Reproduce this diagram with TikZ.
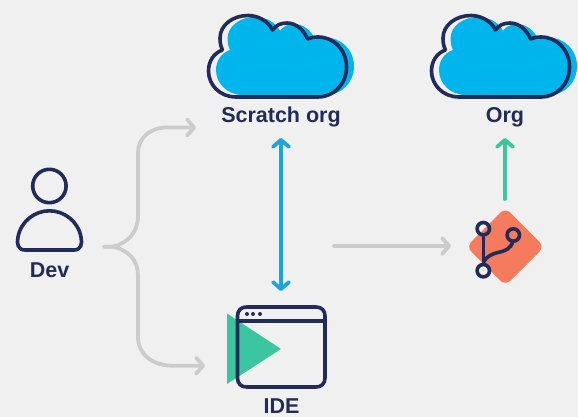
\documentclass[tikz,border=0pt]{standalone}
\usepackage{fontspec}
\setmainfont{Liberation Sans}
\usetikzlibrary{arrows.meta}
\definecolor{bgc}{HTML}{F0F0F0}
\definecolor{navy}{HTML}{232B58}
\definecolor{cloudb}{HTML}{00B5EC}
\definecolor{arrowb}{HTML}{1BA5E0}
\definecolor{greenc}{HTML}{3CC6A0}
\definecolor{orangec}{HTML}{F47B5E}
\definecolor{greyc}{HTML}{CCCCCC}
\newcommand{\cloudoutline}{(222.5,50) .. controls (220.5,46) and (220,42) .. (220,38)
  .. controls (220,25) and (233,15.5) .. (248,15.5)
  .. controls (258,15.5) and (268,21) .. (272.5,30)
  .. controls (276,25) and (281,23) .. (287,23)
  .. controls (296,23) and (304,30) .. (307.5,39)
  .. controls (311,37.5) and (314,37) .. (318,37)
  .. controls (334,37) and (346.5,50) .. (346.5,67)
  .. controls (346.5,84) and (334,97) .. (318,97)
  -- (236,97)
  .. controls (220,97) and (208.5,85) .. (208.5,71)
  .. controls (208.5,61) and (214,53) .. (222.5,50) -- cycle}
\tikzset{
  lbl/.style={font=\bfseries\fontsize{21.5}{24}\selectfont, text=navy, inner sep=0pt, anchor=base},
  icon/.style={draw=navy, line width=3.6pt, line join=round, line cap=round},
  flow/.style={line width=3.8pt, line cap=round, line join=round},
  opentip/.style={-{Straight Barb[length=7pt,width=16pt,line width=3.8pt,round]}},
  bothtip/.style={{Straight Barb[length=7pt,width=16pt,line width=3.8pt,round]}-{Straight Barb[length=7pt,width=16pt,line width=3.8pt,round]}},
  pics/cloudshape/.style={code={
    \fill[cloudb, cm={1,0,0,0.96,(7.5,2)}] \cloudoutline;
    \path[icon] \cloudoutline;
  }}
}
\begin{document}
\begin{tikzpicture}[x=1pt,y=-1pt]
\useasboundingbox (0,0) rectangle (578,417);
\fill[bgc] (0,0) rectangle (578,417);
% clouds
\pic at (0,0) {cloudshape};
\pic at (223,0) {cloudshape};
\node[lbl] (scratch) at (281,123) {Scratch org};
\node[lbl] (org) at (505,123) {Org};
% dev
\draw[icon] (49.4,186) circle (16.7pt);
\draw[icon] (25,250) .. controls (18,250) and (16.5,244) .. (18,237)
  .. controls (21,221) and (35,210.8) .. (49.5,210.8)
  .. controls (64,210.8) and (78,221) .. (81,237)
  .. controls (82.5,244) and (81,250) .. (74,250) -- cycle;
\node[lbl] (dev) at (49.5,277) {Dev};
% ide
\fill[greenc] (227,313.5) -- (281,349) -- (227,384) -- cycle;
\draw[icon] (246.5,307) -- (316,307) .. controls (321.5,307) and (325,310.5) .. (325,316)
  -- (325,378) .. controls (325,383.5) and (321.5,387) .. (316,387)
  -- (246.5,387) .. controls (241,387) and (237.5,383.5) .. (237.5,378)
  -- (237.5,316) .. controls (237.5,310.5) and (241,307) .. (246.5,307) -- cycle;
\draw[icon, line cap=butt] (237.5,321) -- (325,321);
\fill[navy] (247,314) circle (2pt) (253,314) circle (2pt) (260,314) circle (2pt);
\node[lbl] (ide) at (281.5,413) {IDE};
% git
\fill[orangec, rounded corners=7pt] (505.3,207.7) -- (544.3,246.7) -- (505.3,285.7) -- (466.3,246.7) -- cycle;
\draw[icon] (483.3,236) -- (483.3,263);
\draw[icon] (483.5,262) .. controls (487,256) and (492,254) .. (498,252.5)
  .. controls (505,251) and (511,249) .. (513,241);
\draw[icon] (483.3,228.7) circle (6.2pt) (483.3,270.7) circle (6.2pt) (513.3,235) circle (6.2pt);
% named ends of connectors
\coordinate (devout) at (104,246.7);
\coordinate (toscratch) at (196,127.5);
\coordinate (toide) at (205,365.7);
\coordinate (idetop) at (281,291);
\coordinate (scratchbot) at (281,138);
\coordinate (mid) at (334,246);
\coordinate (gitin) at (451,246);
\coordinate (gittop) at (505,199);
\coordinate (orgbot) at (505,138);
% connectors
\draw[flow, greyc, opentip] (devout) -- (113,246.7) .. controls (128,243) and (138,232) .. (138,216)
  -- (138,153) .. controls (138,138) and (150,127.5) .. (167,127.5) -- (toscratch);
\draw[flow, greyc, opentip] (devout) -- (113,246.7) .. controls (128,250) and (138,260) .. (138,275)
  -- (138,337) .. controls (138,354) and (152,365.7) .. (173,365.7) -- (toide);
\draw[flow, greyc, opentip] (mid) -- (gitin);
\draw[flow, arrowb, bothtip] (scratchbot) -- (idetop);
\draw[flow, greenc, opentip] (gittop) -- (orgbot);
\end{tikzpicture}
\end{document}
